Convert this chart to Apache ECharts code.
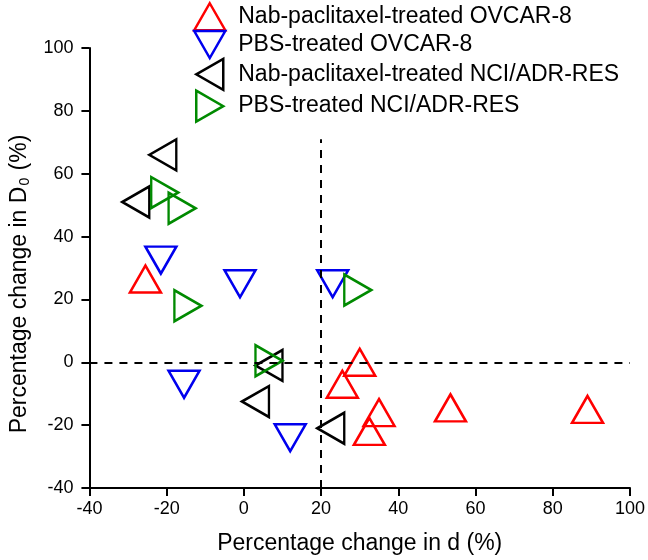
<!DOCTYPE html>
<html>

<head>
    <meta charset="utf-8">
    <script src="https://cdn.jsdelivr.net/npm/echarts@6/dist/echarts.min.js"></script>
</head>
<style type="text/css">
    body {
        margin: 0;
        background: #fff;
    }

    #chart {
        width: 648px;
        height: 560px;
    }
</style>

<body>
    <div id="chart"></div>
</body>

</html>

<script type="text/javascript">
    // [percentage change in d, percentage change in D0]
    let nabOvcar = [[-25.5, 26.5], [25.5, -7], [30, 0], [35, -16], [32.5, -22], [53.5, -14.5], [89, -15]]
    let pbsOvcar = [[-21.5, 32.5], [-1, 25], [23, 25], [-15.5, -7], [12, -24]]
    let nabNci = [[-21, 66], [-28, 51], [6.5, -1], [3, -12.5], [22.5, -21]]
    let pbsNci = [[-20.5, 54], [-16, 49], [-14.5, 18], [6.5, 0.5], [29.5, 23]]

    let names = ['Nab-paclitaxel-treated OVCAR-8', 'PBS-treated OVCAR-8',
        'Nab-paclitaxel-treated NCI/ADR-RES', 'PBS-treated NCI/ADR-RES']
    let colors = ['#ff0000', '#0000ee', '#000000', '#008a00']
    let rotations = [0, 180, 90, -90]
    // legend icons: up, down, left, right triangles
    let icons = [
        'path://M15.5,0L31,27L0,27Z',
        'path://M0,0L31,0L15.5,27Z',
        'path://M0,15.5L27,0L27,31Z',
        'path://M0,0L27,15.5L0,31Z'
    ]

    let font = 'Liberation Sans, Arial, sans-serif'

    function series(i, data) {
        return {
            name: names[i],
            type: 'scatter',
            data: data,
            symbol: 'triangle',
            symbolSize: [31, 27],
            symbolRotate: rotations[i],
            itemStyle: {
                color: 'rgba(0,0,0,0)',
                borderColor: colors[i],
                borderWidth: 2.5,
                opacity: 1
            }
        }
    }

    let myChart = echarts.init(document.getElementById('chart'))

    let guides = {
        type: 'scatter',
        data: [],
        markLine: {
            silent: true,
            symbol: 'none',
            label: { show: false },
            lineStyle: { color: '#000', width: 2, type: [8, 7] },
            data: [
                [{ coord: [-40, 0] }, { coord: [100, 0] }],
                [{ coord: [20, -40] }, { coord: [20, 71] }]
            ]
        }
    }

    let option = {
        animation: false,
        textStyle: { fontFamily: font },
        grid: { left: 84, right: 15, top: 48, bottom: 72 },
        legend: {
            orient: 'vertical',
            left: 193,
            top: 2,
            padding: 0,
            itemWidth: 31,
            itemHeight: 31,
            itemGap: -1.7,
            symbolKeepAspect: true,
            data: names.map((n, i) => ({
                name: n,
                icon: icons[i],
                itemStyle: { color: 'rgba(0,0,0,0)', borderColor: colors[i], borderWidth: 2.5 }
            })),
            textStyle: { fontSize: 23, lineHeight: 27, color: '#000', fontFamily: font, padding: [0, 0, 0, 8] }
        },
        xAxis: {
            type: 'value',
            min: -40,
            max: 100,
            interval: 20,
            name: 'Percentage change in d (%)',
            nameLocation: 'middle',
            nameGap: 44,
            nameTextStyle: { fontSize: 23, color: '#000' },
            axisLine: { onZero: false, lineStyle: { color: '#000', width: 2 } },
            axisTick: { length: 8, lineStyle: { width: 2 } },
            axisLabel: { fontSize: 18, color: '#000', margin: 12 },
            splitLine: { show: false }
        },
        yAxis: {
            type: 'value',
            min: -40,
            max: 100,
            interval: 20,
            name: 'Percentage change in D{sub|0} (%)',
            nameLocation: 'middle',
            nameGap: 56,
            nameTextStyle: {
                fontSize: 23, color: '#000',
                padding: [0, 32, 0, 0],
                rich: { sub: { fontSize: 14, color: '#000', padding: [12, 1, 0, 1] } }
            },
            axisLine: { onZero: false, lineStyle: { color: '#000', width: 2 } },
            axisTick: { length: 8, lineStyle: { width: 2 } },
            axisLabel: { fontSize: 18, color: '#000', margin: 16 },
            splitLine: { show: false }
        },
        series: [
            guides,
            series(0, nabOvcar),
            series(1, pbsOvcar),
            series(2, nabNci),
            series(3, pbsNci)
        ]
    }

    myChart.setOption(option)
</script>
